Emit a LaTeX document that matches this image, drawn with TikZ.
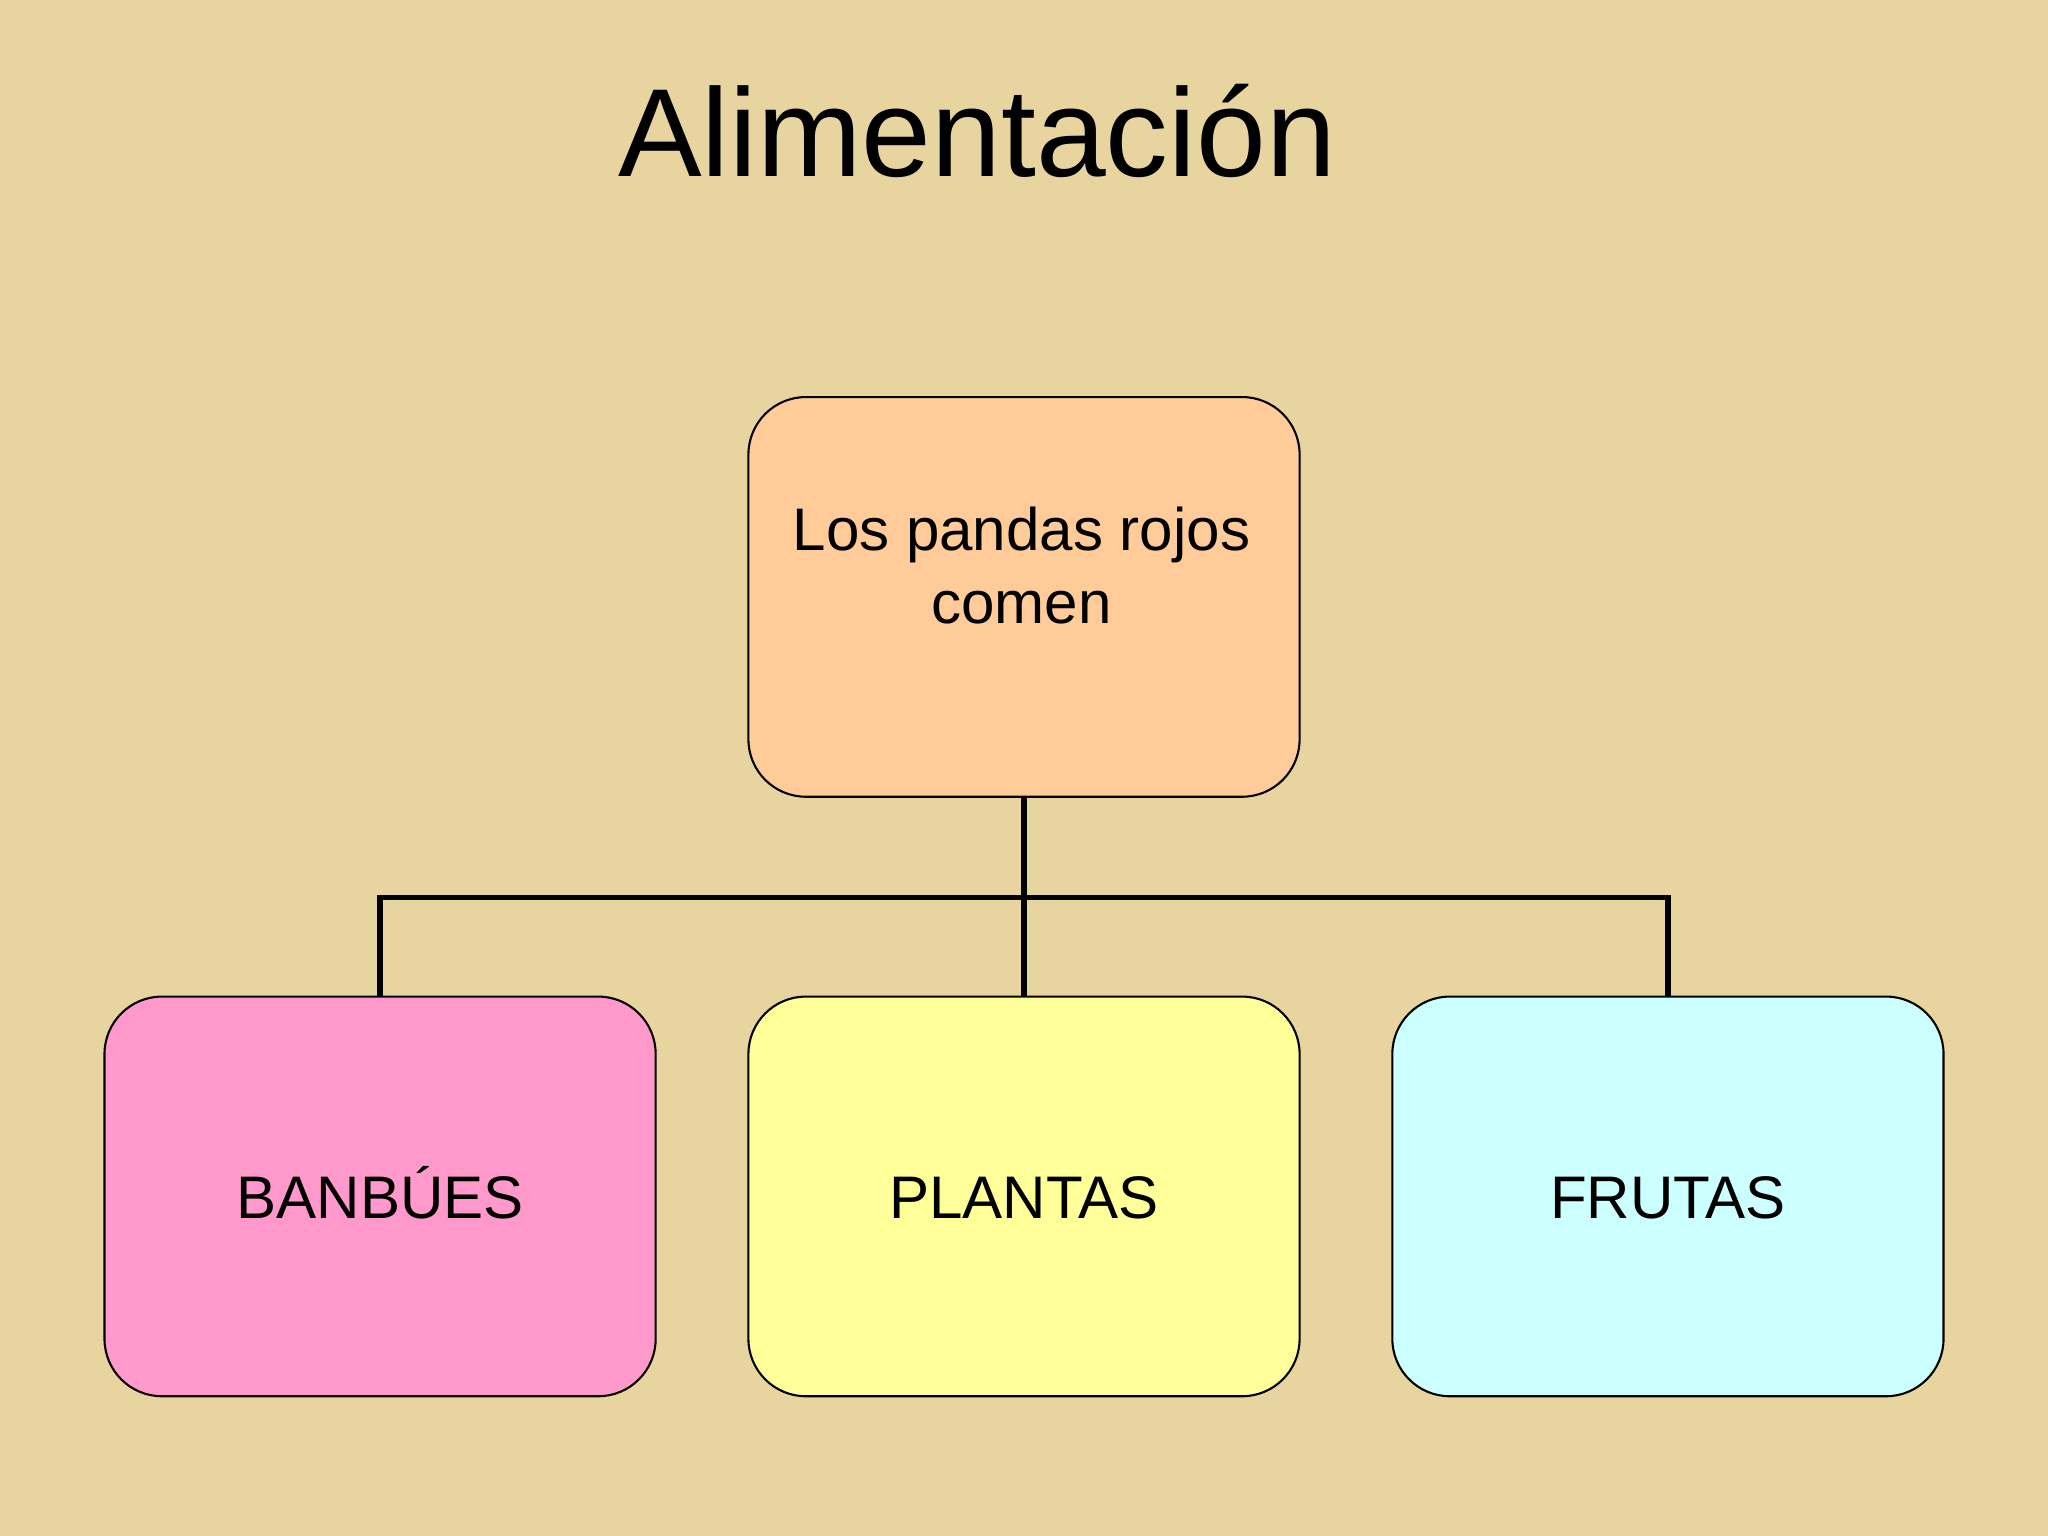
\documentclass[tikz,border=0pt]{standalone}
\usepackage{fontspec}
\setmainfont{Liberation Sans}
\begin{document}
\begin{tikzpicture}[x=0.5pt,y=-0.5pt,
  box/.style={draw=black,line width=0.8pt,rounded corners=22pt,minimum width=211pt,minimum height=153pt,text height=17pt,text depth=0pt,font=\fontsize{23}{28}\selectfont},
  conn/.style={line width=2pt}]
\fill[fill={rgb,255:red,232;green,212;blue,158}] (0,0) rectangle (1568,1176);
\useasboundingbox (0,0) rectangle (1568,1176);
\node (title) at (748,100) {\fontsize{48}{57}\selectfont Alimentación};
\node[box,fill={rgb,255:red,255;green,204;blue,153}] (top) at (784,457) {};
\node[align=center,font=\fontsize{23}{28}\selectfont] (toptxt) at (782,433) {Los pandas rojos\\comen};
\node[box,fill={rgb,255:red,255;green,153;blue,204}] (b1) at (291,916) {BANBÚES};
\node[box,fill={rgb,255:red,255;green,255;blue,153}] (b2) at (784,916) {PLANTAS};
\node[box,fill={rgb,255:red,204;green,255;blue,255}] (b3) at (1277,916) {FRUTAS};
\coordinate (j) at (784,687);
\draw[conn] (top.south) -- (j);
\draw[conn] (b1.north) |- (j) -| (b3.north);
\draw[conn] (j) -- (b2.north);
\end{tikzpicture}
\end{document}
